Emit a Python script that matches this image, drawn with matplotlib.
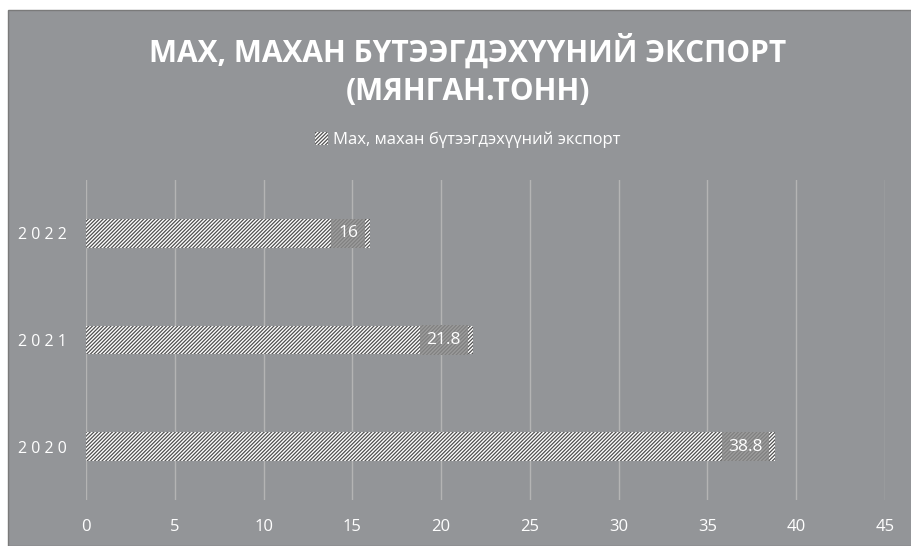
import matplotlib.pyplot as plt
from matplotlib.patches import Rectangle

years = ['2020', '2021', '2022']
export = [38.8, 21.8, 16]
series_name = 'Мах, махан бүтээгдэхүүний экспорт'
title = 'МАХ, МАХАН БҮТЭЭГДЭХҮҮНИЙ ЭКСПОРТ\n(МЯНГАН.ТОНН)'
xticks = [0, 5, 10, 15, 20, 25, 30, 35, 40, 45]

bg = '#939598'
plt.rcParams['font.family'] = ['Open Sans', 'DejaVu Sans']
plt.rcParams['hatch.linewidth'] = 0.9

fig = plt.figure(figsize=(9.12, 5.46), dpi=100)
fig.patch.set_facecolor('white')
# gray chart area with a thin white margin at top/left
fig.patches.append(Rectangle((8 / 912, 0), 1, 1 - 10 / 546, transform=fig.transFigure,
                             facecolor=bg, edgecolor='#7a7a7a', lw=1, zorder=-5))

ax = fig.add_axes([86 / 912, 46 / 546, 799 / 912, 320 / 546])
ax.set_facecolor('none')
ax.set_zorder(2)

ypos = range(len(years))
bars = ax.barh(ypos, export, height=0.27, color='white', edgecolor='#505050',
               linewidth=0, hatch='/' * 9, zorder=3, label=series_name)

# data labels sit on a gray hatched box at the inside end of each bar
for y, v in zip(ypos, export):
    ax.text(v - 0.68, y, f'{v:g}', ha='right', va='center', color='white', fontsize=12.5,
            zorder=4,
            bbox=dict(boxstyle='square,pad=0.38', facecolor='#9c9c9c', edgecolor='#808080',
                      linewidth=0, hatch='/' * 9))

ax.set_xlim(0, 45)
ax.set_ylim(-0.5, 2.5)
ax.set_xticks(xticks)
ax.set_yticks(list(ypos))
ax.set_yticklabels([' '.join(y) for y in years])
ax.tick_params(axis='x', length=0, colors='white', labelsize=12, pad=14)
ax.tick_params(axis='y', length=0, colors='white', labelsize=11.5, pad=14)
ax.grid(axis='x', color='#b4b4b4', linewidth=1, zorder=0)
for s in ax.spines.values():
    s.set_visible(False)

fig.text(468 / 912, 1 - 70 / 546, title, ha='center', va='center', color='white',
         fontsize=21.5, fontweight='bold', linespacing=1.35)

leg = fig.legend(loc='center', bbox_to_anchor=(468 / 912, 1 - 140 / 546), frameon=False,
                 fontsize=12, handlelength=0.8, handleheight=0.8, handletextpad=0.3)
for t in leg.get_texts():
    t.set_color('white')

fig.savefig('out.png', dpi=100)
